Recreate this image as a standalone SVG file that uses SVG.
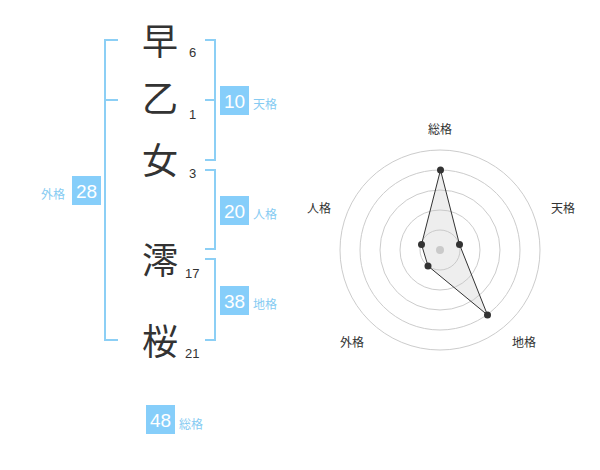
<svg xmlns="http://www.w3.org/2000/svg" width="600" height="470" viewBox="0 0 600 470">
<style>
.ch{font-family:"Noto Sans CJK JP","Noto Sans CJK SC",sans-serif;font-size:36px;fill:#333;text-anchor:middle}
.st{font-family:"Liberation Sans",Arial,sans-serif;font-size:13px;fill:#333}
.br{fill:none;stroke:#8ccff5;stroke-width:2}
.bx{fill:#86cefa}
.bn{font-family:"Liberation Sans",Arial,sans-serif;font-size:19px;fill:#fff;text-anchor:middle}
.lb{font-family:"Noto Sans CJK JP","Noto Sans CJK SC",sans-serif;font-size:12px;fill:#86cbf2}
.ring{fill:none;stroke:#ccc;stroke-width:1}
.ax{font-family:"Noto Sans CJK JP","Noto Sans CJK SC",sans-serif;font-size:12px;fill:#333;text-anchor:middle}
.dot{fill:#333}
</style>
<g id="name">
<g id="c1"><text class="ch" x="160" y="55">早</text><text class="st" x="189" y="57">6</text></g>
<g id="c2"><text class="ch" x="160" y="112">乙</text><text class="st" x="189" y="119">1</text></g>
<g id="c3"><text class="ch" x="160" y="174">女</text><text class="st" x="189" y="178">3</text></g>
<g id="c4"><text class="ch" x="160" y="274">澪</text><text class="st" x="185" y="278">17</text></g>
<g id="c5"><text class="ch" x="160" y="355">桜</text><text class="st" x="185" y="358">21</text></g>
</g>
<g id="brackets">
<path class="br" d="M118,40 H105 V340 H118 M105,100 H118"/>
<path class="br" d="M205,40 H215 V160 H205 M215,100 H205"/>
<path class="br" d="M205,170 H215 V249 H205"/>
<path class="br" d="M205,259 H215 V340 H205"/>
</g>
<g id="ten"><rect class="bx" x="220" y="86" width="29" height="29"/><text class="bn" x="234.5" y="107.5">10</text><text class="lb" x="253" y="109">天格</text></g>
<g id="jin"><rect class="bx" x="220" y="196" width="29" height="29"/><text class="bn" x="234.5" y="217.5">20</text><text class="lb" x="253" y="219">人格</text></g>
<g id="chi"><rect class="bx" x="220" y="286" width="29" height="29"/><text class="bn" x="234.5" y="307.5">38</text><text class="lb" x="253" y="309">地格</text></g>
<g id="gai"><rect class="bx" x="72" y="176" width="29" height="29"/><text class="bn" x="86.5" y="197.5">28</text><text class="lb" x="41" y="199">外格</text></g>
<g id="sou"><rect class="bx" x="146" y="405" width="29" height="29"/><text class="bn" x="160.5" y="426.5">48</text><text class="lb" x="179" y="429">総格</text></g>
<g id="radar">
<circle class="ring" cx="440" cy="250" r="20"/>
<circle class="ring" cx="440" cy="250" r="40"/>
<circle class="ring" cx="440" cy="250" r="60"/>
<circle class="ring" cx="440" cy="250" r="80"/>
<circle class="ring" cx="440" cy="250" r="100"/>
<circle cx="440" cy="250" r="4" fill="#ccc"/>
<polygon points="440.5,170 459.5,244.5 487.5,315 428,266 421.5,244.5" fill="rgba(200,200,200,0.3)" stroke="#333" stroke-width="1"/>
<circle class="dot" cx="440.5" cy="170" r="3.5"/>
<circle class="dot" cx="459.5" cy="244.5" r="3.5"/>
<circle class="dot" cx="487.5" cy="315" r="3.5"/>
<circle class="dot" cx="428" cy="266" r="3.5"/>
<circle class="dot" cx="421.5" cy="244.5" r="3.5"/>
<text class="ax" x="440" y="134">総格</text>
<text class="ax" x="563" y="213">天格</text>
<text class="ax" x="524" y="347">地格</text>
<text class="ax" x="352" y="347">外格</text>
<text class="ax" x="319" y="213">人格</text>
</g>
</svg>
